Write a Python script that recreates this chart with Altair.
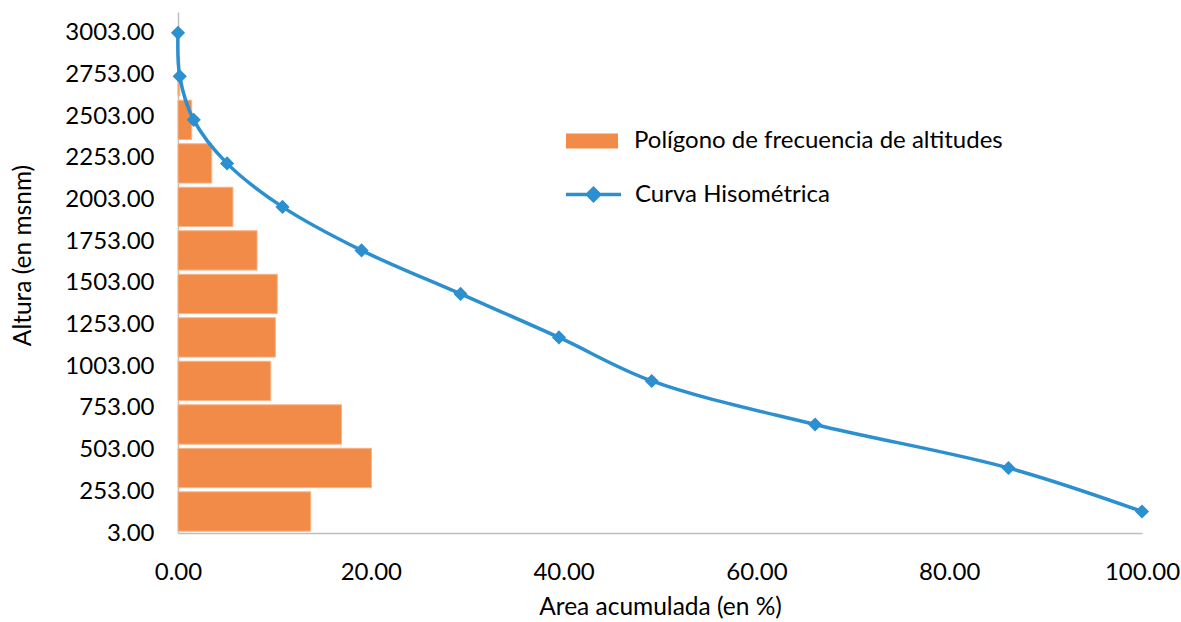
import altair as alt
import pandas as pd

# Curva hipsométrica: altitud (msnm) vs área acumulada (%)
curva_altitud = [3003, 2742, 2481, 2220, 1959, 1698, 1437, 1176, 915, 654, 393, 132]
curva_area = [0.0, 0.18, 1.63, 5.09, 10.84, 19.04, 29.31, 39.52, 49.14, 66.09, 86.15, 100.0]

# Polígono de frecuencia: altitud media de clase y frecuencia (%)
clase_altitud = [2742, 2481, 2220, 1959, 1698, 1437, 1176, 915, 654, 393, 132]
clase_frec = [0.18, 1.42, 3.50, 5.70, 8.20, 10.30, 10.10, 9.62, 16.96, 20.07, 13.77]

y_ticks = [3, 253, 503, 753, 1003, 1253, 1503, 1753, 2003, 2253, 2503, 2753, 3003]
x_ticks = [0, 20, 40, 60, 80, 100]

serie_barra = "Polígono de frecuencia de altitudes"
serie_curva = "Curva Hisométrica"

df_bar = pd.DataFrame({"alt": clase_altitud, "frec": clase_frec, "serie": serie_barra})
df_cur = pd.DataFrame({"alt": curva_altitud, "area": curva_area, "serie": serie_curva})

FONT = "Lato"
ORANGE = "#F28B48"
BLUE = "#2B8FD0"
AXIS_GRAY = "#BFBFBF"

x_scale = alt.Scale(domain=[0, 100], nice=False, zero=False)
y_scale = alt.Scale(domain=[3, 3128], nice=False, zero=False)

x_axis = alt.Axis(
    values=x_ticks, format=".2f", title="Area acumulada (en %)", grid=False,
    ticks=False, tickSize=0, domainColor=AXIS_GRAY, domainWidth=1.5,
    labelFont=FONT, labelFontSize=24, labelColor="#000000", labelPadding=39,
    labelBaseline="middle", labelFlush=False,
    titleFont=FONT, titleFontSize=24.5, titleFontWeight="normal", titleColor="#000000",
    titleX=482, titleY=74, titleBaseline="middle", titleAlign="center",
)
y_axis = alt.Axis(
    values=y_ticks, format=".2f", title="Altura (en msnm)", grid=False,
    ticks=False, tickSize=0, domainColor=AXIS_GRAY, domainWidth=1.5,
    labelFont=FONT, labelFontSize=24, labelColor="#000000", labelPadding=24,
    labelBaseline="middle", labelFlush=False,
    titleFont=FONT, titleFontSize=24.5, titleFontWeight="normal", titleColor="#000000",
    titleX=-155, titleY=243, titleBaseline="middle", titleAlign="center", titleAngle=-90,
)

legend_common = dict(
    title=None, orient="none", labelFont=FONT, labelFontSize=24, labelColor="#000000",
    padding=0, labelLimit=0,
)

bars = (
    alt.Chart(df_bar)
    .transform_calculate(y0="datum.alt - 118", y1="datum.alt + 118")
    .mark_bar(stroke="#F7B58A", strokeWidth=1)
    .encode(
        x=alt.X("frec:Q", scale=x_scale, axis=x_axis),
        x2=alt.datum(0),
        y=alt.Y("y0:Q", scale=y_scale, axis=y_axis),
        y2="y1:Q",
        color=alt.Color(
            "serie:N",
            scale=alt.Scale(domain=[serie_barra], range=[ORANGE]),
            legend=alt.Legend(
                legendX=388, legendY=103, labelOffset=16,
                symbolType="M-1,-0.29L1,-0.29L1,0.29L-1,0.29Z", symbolSize=2704,
                symbolStrokeWidth=0, **legend_common,
            ),
        ),
    )
)

curva_legend = alt.Legend(
    legendX=386, legendY=153, labelOffset=12,
    symbolType="M-1,0L1,0M-0.22,0L0,-0.22L0.22,0L0,0.22Z", symbolSize=3025,
    symbolStrokeWidth=3.5, **legend_common,
)

base = alt.Chart(df_cur).encode(
    x=alt.X("area:Q", scale=x_scale, axis=x_axis),
    y=alt.Y("alt:Q", scale=y_scale, axis=y_axis),
)

line = base.mark_line(strokeWidth=3.5, interpolate="catmull-rom").encode(
    stroke=alt.Stroke("serie:N", scale=alt.Scale(domain=[serie_curva], range=[BLUE]), legend=curva_legend),
    order=alt.Order("area:Q"),
)
points = base.mark_point(shape="diamond", filled=True, size=200, opacity=1).encode(
    fill=alt.Fill("serie:N", scale=alt.Scale(domain=[serie_curva], range=[BLUE]), legend=curva_legend),
)

chart = (
    alt.layer(bars, line, points)
    .properties(
        width=964, height=521,
        padding={"left": 178, "top": 12, "right": 39, "bottom": 89},
        autosize="none",
        background="white",
    )
    .configure_view(stroke=None, strokeWidth=0)
)

chart.save("out.html", embed_options={"renderer": "svg", "actions": False})
